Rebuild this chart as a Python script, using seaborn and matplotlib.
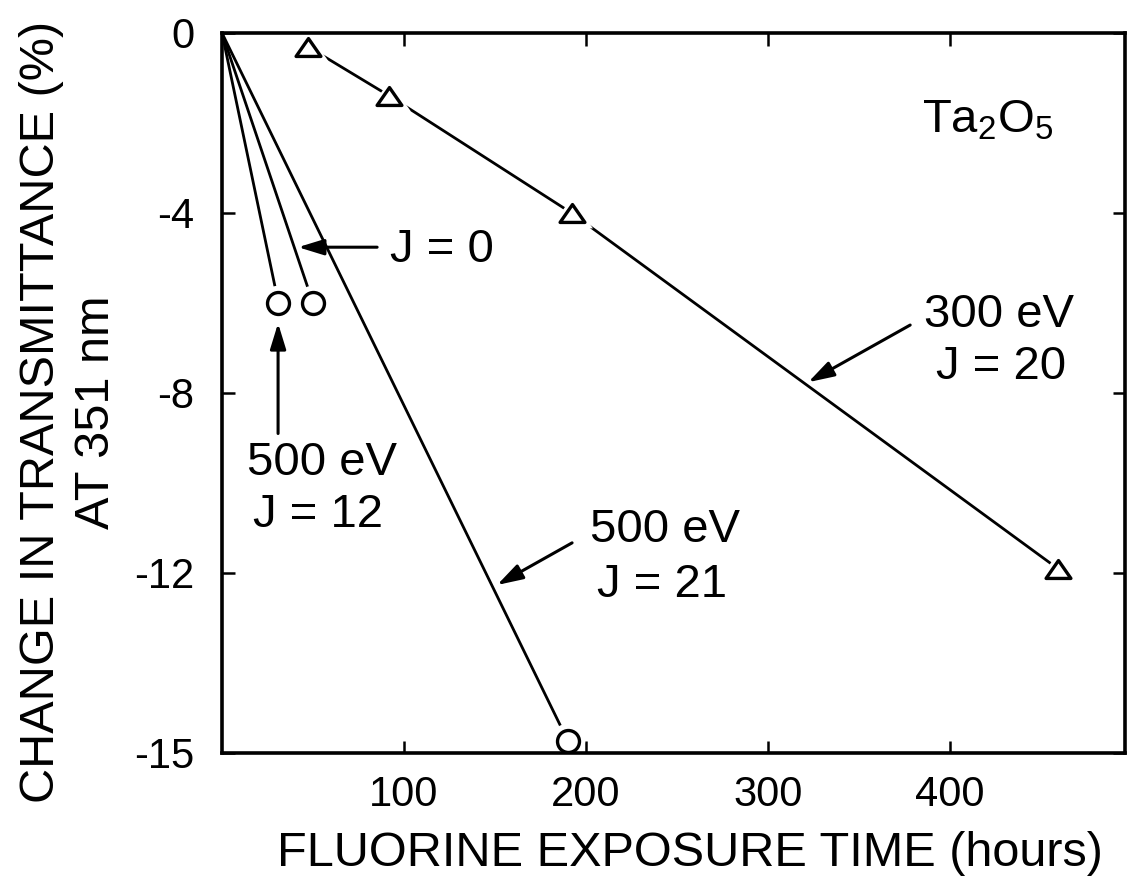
import numpy as np
import matplotlib
matplotlib.use("Agg")
import matplotlib.pyplot as plt
from matplotlib.path import Path
from matplotlib.ticker import FixedLocator, FixedFormatter
import seaborn as sns

# Fluorine exposure time (hours) and transmittance change (%) at 351 nm
t_300_j20 = [47, 92, 192, 459]
dT_300_j20 = [-0.3, -1.4, -4.0, -11.9]

t_500_j21 = [0, 190]
dT_500_j21 = [0, -14.8]

t_500_j12 = [0, 31]
dT_500_j12 = [0, -6.0]

t_500_j0 = [0, 50]
dT_500_j0 = [0, -6.0]

x_ticks = [100, 200, 300, 400]
x_tick_labels = ["100", "200", "300", "400"]
y_ticks = [0, -4, -8, -12, -15]
y_tick_labels = ["0", "-4", "-8", "-12", "-15"]

sns.set_theme(style="ticks")
plt.rcParams["font.family"] = ["Liberation Sans", "DejaVu Sans"]
plt.rcParams["mathtext.default"] = "regular"

fig = plt.figure(figsize=(11.3, 8.76), dpi=100)
ax = fig.add_axes([222 / 1130, 1 - 753 / 876, 903 / 1130, 720 / 876])


# vertical axis: linear to -12, the last interval stretched
def _fwd(y):
    y = np.asarray(y, dtype=float)
    return np.where(y >= -12, y, -12 + (y + 12) * 4 / 3)


def _inv(t):
    t = np.asarray(t, dtype=float)
    return np.where(t >= -12, t, -12 + (t + 12) * 3 / 4)


ax.set_yscale("function", functions=(_fwd, _inv))

LW = 2.0
# connecting lines
for xs, ys in [(t_300_j20, dT_300_j20), (t_500_j21, dT_500_j21),
               (t_500_j12, dT_500_j12), (t_500_j0, dT_500_j0)]:
    sns.lineplot(x=xs, y=ys, estimator=None, sort=False, color="black",
                 linewidth=LW, ax=ax, zorder=2)

tri = Path([(0, 0.72), (-1, -0.72), (1, -0.72), (0, 0.72)],
           [Path.MOVETO, Path.LINETO, Path.LINETO, Path.CLOSEPOLY])

circ_x = t_500_j21[1:] + t_500_j12[1:] + t_500_j0[1:]
circ_y = dT_500_j21[1:] + dT_500_j12[1:] + dT_500_j0[1:]

# white halos leave a small gap between line and symbol
sns.scatterplot(x=t_300_j20, y=dT_300_j20, marker=tri, s=950,
                facecolor="white", edgecolor="none", ax=ax, zorder=2.1)
sns.scatterplot(x=circ_x, y=circ_y, marker="o", s=620,
                facecolor="white", edgecolor="none", ax=ax, zorder=2.1)
# open symbols
sns.scatterplot(x=t_300_j20, y=dT_300_j20, marker=tri, s=320,
                facecolor="white", edgecolor="black", linewidth=2.4,
                ax=ax, zorder=2.2)
sns.scatterplot(x=circ_x, y=circ_y, marker="o", s=250,
                facecolor="white", edgecolor="black", linewidth=2.4,
                ax=ax, zorder=2.2)

ax.set_xlim(0, 496)
ax.set_ylim(-15, 0)

ax.xaxis.set_major_locator(FixedLocator(x_ticks))
ax.xaxis.set_major_formatter(FixedFormatter(x_tick_labels))
ax.yaxis.set_major_locator(FixedLocator(y_ticks))
ax.yaxis.set_major_formatter(FixedFormatter(y_tick_labels))
ax.yaxis.set_minor_locator(FixedLocator([]))
ax.tick_params(axis="both", which="major", direction="in", length=9,
               width=1.8, color="black", labelsize=30, labelcolor="black",
               top=True, right=True)
ax.tick_params(axis="x", pad=16)
ax.tick_params(axis="y", pad=20)

for sp in ax.spines.values():
    sp.set_visible(True)
    sp.set_linewidth(2.6)
    sp.set_color("black")

ax.set_xlabel("FLUORINE EXPOSURE TIME (hours)", fontsize=35, color="black")
ax.xaxis.set_label_coords((690 - 222) / 903, -(853 - 753) / 720)
ax.xaxis.label.set_va("center")

ax.set_ylabel("CHANGE IN TRANSMITTANCE (%)\nAT 351 nm", fontsize=35,
              color="black", linespacing=1.3)
ax.yaxis.set_label_coords(-(222 - 69) / 903, (753 - 412) / 720)
ax.yaxis.label.set_va("center")

TXT = dict(fontsize=34, color="black")
arrow = dict(arrowstyle="-|>,head_length=1.3,head_width=0.4", color="black",
             lw=2.2, shrinkA=0, shrinkB=0)

# J = 0
ax.annotate("", xy=(41.8, -4.76), xytext=(85.2, -4.76), arrowprops=arrow)
ax.text(92.3, -4.82, "J = 0", ha="left", va="center", **TXT)

# 500 eV, J = 12
ax.annotate("", xy=(30.8, -6.45), xytext=(30.8, -8.9), arrowprops=arrow)
ax.text(55.0, -9.56, "500 eV", ha="center", va="center", **TXT)
ax.text(52.7, -10.71, "J = 12", ha="center", va="center", **TXT)

# 500 eV, J = 21
ax.annotate("", xy=(151.1, -12.2), xytext=(192.3, -11.33), arrowprops=arrow)
ax.text(243.4, -11.04, "500 eV", ha="center", va="center", **TXT)
ax.text(241.8, -12.2, "J = 21", ha="center", va="center", **TXT)

# 300 eV, J = 20
ax.annotate("", xy=(322.0, -7.76), xytext=(378.0, -6.49), arrowprops=arrow)
ax.text(426.9, -6.27, "300 eV", ha="center", va="center", **TXT)
ax.text(428.0, -7.42, "J = 20", ha="center", va="center", **TXT)

ax.text(384.6, -2.2, "Ta$_2$O$_5$", ha="left", va="baseline", **TXT)

fig.savefig("out.png", dpi=100, facecolor="white")
